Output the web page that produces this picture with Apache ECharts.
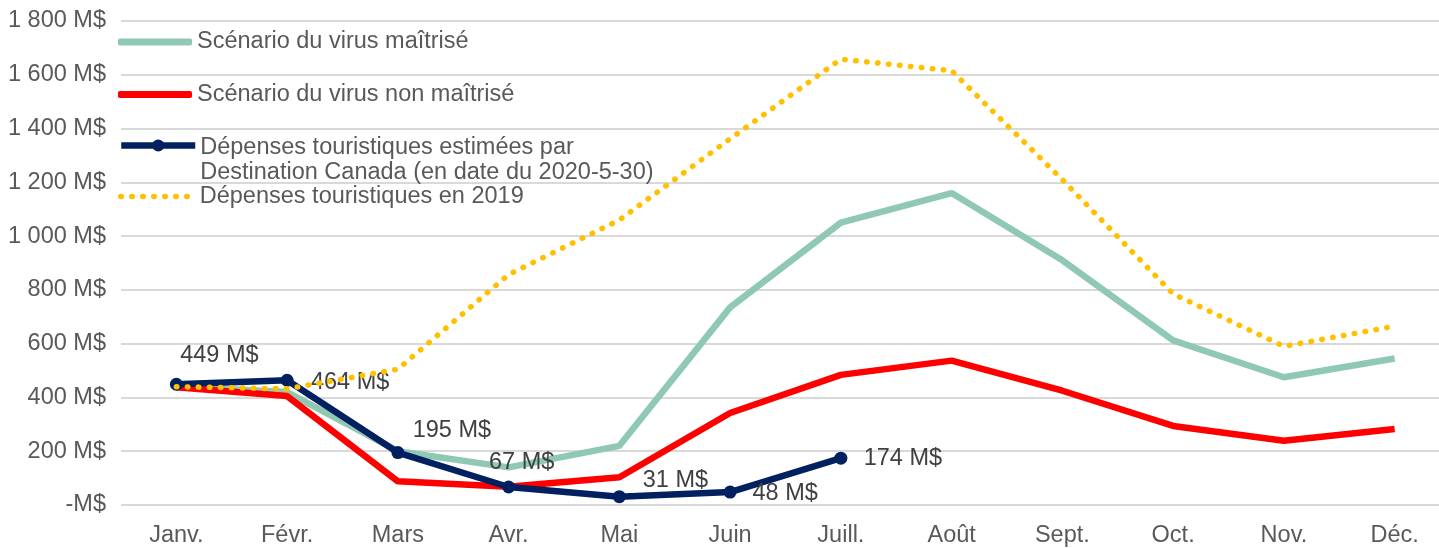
<!DOCTYPE html>
<html>
<head>
<meta charset="utf-8">
<script src="https://cdn.jsdelivr.net/npm/echarts@6/dist/echarts.min.js"></script>
<style>
  html, body { margin: 0; padding: 0; background: #fff; overflow: hidden; }
  #main { width: 1450px; height: 548px; }
</style>
</head>
<body>
<div id="main"></div>
<script>
// valeurs (M$)
var months = ['Janv.', 'Févr.', 'Mars', 'Avr.', 'Mai', 'Juin', 'Juill.', 'Août', 'Sept.', 'Oct.', 'Nov.', 'Déc.'];
var maitrise = [440, 420, 200, 140, 220, 735, 1050, 1160, 910, 612, 475, 545];
var nonMaitrise = [438, 405, 88, 68, 103, 342, 484, 537, 425, 294, 239, 283];
var estimees = [449, 464, 195, 67, 31, 48, 174];
var depenses2019 = [440, 432, 505, 857, 1060, 1362, 1658, 1615, 1210, 785, 590, 665];
var yTicks = [0, 200, 400, 600, 800, 1000, 1200, 1400, 1600, 1800];

// decalage des etiquettes de la serie bleue
var labelOffsets = [[43, -29], [63, 2], [54, -22], [13, -24], [56, -16], [55, 1], [62, 0]];

var names = [
  'Scénario du virus maîtrisé',
  'Scénario du virus non maîtrisé',
  'Dépenses touristiques estimées par Destination Canada (en date du 2020-5-30)',
  'Dépenses touristiques en 2019'
];
var font = 'Liberation Sans, Arial, sans-serif';
var grey = '#595959';
var fs = 23.5;

function fmt(v) {
  if (v === 0) return '-M$';
  return String(v).replace(/\B(?=(\d{3})+(?!\d))/g, ' ') + ' M$';
}

function legendFor(name, top, extra) {
  var l = {
    data: [name],
    orient: 'vertical',
    left: 118,
    top: top,
    padding: 0,
    itemWidth: 74,
    itemHeight: 7,
    selectedMode: false,
    textStyle: { color: grey, fontSize: fs, fontFamily: font, lineHeight: 25 }
  };
  return Object.assign(l, extra || {});
}

// le graphique d'origine deborde un peu a droite de l'image
var chart = echarts.init(document.getElementById('main'));
chart.setOption({
  animation: false,
  backgroundColor: '#fff',
  grid: { left: 121, right: 0, top: 21, bottom: 38 },
  legend: [
    legendFor(names[0], 29.5, { icon: 'roundRect' }),
    legendFor(names[1], 82, { icon: 'roundRect' }),
    legendFor(names[2], 106, {
      itemHeight: 15,
      lineStyle: { width: 6.5 },
      formatter: function () {
        return '{s| }\n{a|Dépenses touristiques estimées par}\n{a|Destination Canada (en date du 2020-5-30)}';
      },
      textStyle: {
        color: grey, fontSize: fs, fontFamily: font, lineHeight: 25,
        rich: {
          s: { lineHeight: 29, height: 29, fontSize: 10 },
          a: { color: grey, fontSize: fs, fontFamily: font, lineHeight: 25 }
        }
      }
    }),
    legendFor(names[3], 184, {
      itemHeight: 14,
      itemStyle: { opacity: 0 },
      lineStyle: { width: 5.5, type: [0.5, 10.5], cap: 'round' }
    })
  ],
  xAxis: {
    type: 'category',
    data: months,
    boundaryGap: true,
    axisLine: { show: false },
    axisTick: { show: false },
    axisLabel: { color: grey, fontSize: fs, fontFamily: font, margin: 19 }
  },
  yAxis: {
    type: 'value',
    min: yTicks[0],
    max: yTicks[yTicks.length - 1],
    interval: 200,
    axisLine: { show: false },
    axisTick: { show: false },
    axisLabel: { color: grey, fontSize: fs, fontFamily: font, margin: 15, formatter: fmt },
    splitLine: { lineStyle: { color: '#D9D9D9', width: 2 } }
  },
  series: [
    {
      name: names[0], type: 'line', data: maitrise, z: 2,
      symbol: 'none', color: '#8FC8B3',
      lineStyle: { width: 6.5, color: '#8FC8B3' }
    },
    {
      name: names[1], type: 'line', data: nonMaitrise, z: 3,
      symbol: 'none', color: '#FF0000',
      lineStyle: { width: 6.5, color: '#FF0000' }
    },
    {
      name: names[2], type: 'line', z: 4,
      data: estimees.map(function (v, i) {
        return { value: v, label: { offset: labelOffsets[i] } };
      }),
      symbol: 'circle', symbolSize: 13, color: '#002060',
      itemStyle: { color: '#002060' },
      lineStyle: { width: 6.5, color: '#002060' },
      label: {
        show: true, position: 'inside', color: '#404040',
        fontSize: fs, fontFamily: font, formatter: function (p) { return p.value + ' M$'; }
      }
    },
    {
      name: names[3], type: 'line', data: depenses2019, z: 5,
      symbol: 'none', color: '#FFC000',
      lineStyle: { width: 5.5, color: '#FFC000', type: [0.5, 10.5], cap: 'round' }
    }
  ]
});
</script>
</body>
</html>
